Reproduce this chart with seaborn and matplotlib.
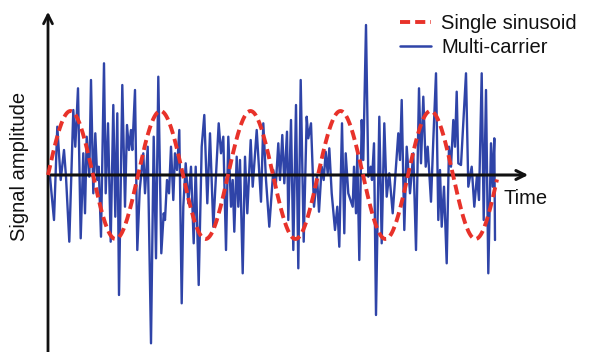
import numpy as np
import pandas as pd
import matplotlib
matplotlib.use("Agg")
import matplotlib.pyplot as plt
import seaborn as sns
from matplotlib.lines import Line2D

# ---- data (time and amplitude in arbitrary units) ----
multi_t = [2, 6, 9.3, 12.7, 16, 18, 21.3, 25.3, 27.3, 30, 32.7, 35.3, 37, 38.7, 41.3, 43, 45.3, 47.3, 49.3,
           50.7, 53, 56, 57.7, 60, 62.7, 65.3, 67.3, 69.3, 71, 74.3, 77, 79, 81, 83, 84.3, 87, 89.3, 91.7,
           95.3, 97, 99.7, 103, 105.7, 108, 110.3, 113.3, 115.7, 117, 119, 121, 123, 125.3, 127, 129, 131.3,
           133.7, 135.3, 137.7, 140.3, 143, 145.7, 147.7, 150.7, 153.7, 156.3, 159.3, 162, 165.3, 170.7, 173,
           175.3, 178, 180.3, 183, 184.7, 186.3, 188.7, 190.3, 192, 194.7, 197, 199.3, 202.7, 204.7, 208.7,
           213, 215.3, 218, 221.3, 225.3, 227.7, 230.3, 232, 234.3, 236.3, 239, 240.3, 243, 245.3, 248,
           250.3, 252.7, 255.7, 258.7, 260.3, 263, 266, 269, 271, 273.7, 275.7, 277.7, 279.7, 281.3, 283.7,
           287, 289.3, 291.3, 294, 296.3, 297.7, 300.3, 304.7, 306, 308, 309.3, 311.3, 313.7, 315.3, 318,
           320.3, 322.7, 324, 326, 328, 331.3, 333.7, 336.3, 338.7, 341.3, 344.7, 350.3, 352, 353.7, 356.3,
           358.7, 362, 365.3, 368, 371, 373, 375.3, 377.7, 379.7, 383, 385.3, 388, 390.3, 392, 393.7, 396,
           398.7, 401, 403, 405.3, 407, 408.7, 410.3, 413, 418, 420.3, 423.7, 426.3, 429, 431, 433.7, 435.7,
           438, 440.3, 443, 444.7, 446.3, 447]
multi_a = [-1.7, -45, 48.3, -5, 25, -1.7, -66.7, 65, 28.3, 86.7, -63.3, 21.7, -38.3, 38.3, -1.7, 95, -18.3,
           41.7, -5, 8.3, -61.7, 111.7, -18.3, 51.7, -66.7, 70, -41.7, 61.7, -120, 90, -31.7, 50, 25, 45,
           25, 85, -75, -15, 21.7, -18.3, 28.3, -168.3, 38.3, -83.3, 98.3, -78.3, -38.3, -45, -5, -18.3,
           28.3, -25, 21.7, 5, 45, -128.3, -31.7, 11.7, -28.3, 8.3, -68.3, 8.3, -110, 28.3, 60, -28.3,
           41.7, -51.7, 51.7, 21.7, 38.3, -75, 38.3, -31.7, -5, -56.7, 18.3, -31.7, 15, -98.3, 18.3,
           -38.3, 35, -11.7, 45, -26.7, 51.7, -5, -51.7, 5, -11.7, 31.7, -5, 40, -8.3, 43.3, -45, 55,
           -75, 70, -93.3, 95, -66.7, 58.3, 36.7, 51.7, -31.7, -1.7, -36.7, 8.3, -5, 23.3, 1.7, 26.7,
           -18.3, -55, -31.7, -71.7, 51.7, -58.3, 21.7, -18.3, -31.7, 8.3, -38.3, 21.7, -85, 55, 15, 150,
           -1.7, 8.3, -5, 31.7, -140, 58.3, -68.3, 51.7, -21.7, 1.7, -38.3, 41.7, 15, 75, -55, 28.3,
           -18.3, 21.7, -75, 86.7, 11.7, 78.3, 8.3, 28.3, -26.7, 35, 101.7, -45, 5, -51.7, -11.7, -88.3,
           28.3, 8.3, 55, 28.3, 83.3, 11.7, 10, 101.7, -11.7, 8.3, -31.7, 0, -25, 101.7, -45, 85, -98.3,
           31.7, -11.7, 36.7, -65]

sin_amplitude = 64      # read peak height
sin_period = 90         # read distance between peaks
sin_end = 449           # read end of the dashed curve

series_labels = ["Single sinusoid", "Multi-carrier"]
x_label = "Time"
y_label = "Signal amplitude"

# ---- frames ----
sin_t = np.linspace(0, sin_end, 800)
df_sin = pd.DataFrame({"t": sin_t, "a": sin_amplitude * np.sin(2 * np.pi * sin_t / sin_period)})
df_multi = pd.DataFrame({"t": multi_t, "a": multi_a})

sns.set_theme(style="white")
plt.rcParams["font.family"] = ["Liberation Sans", "DejaVu Sans"]

W, H = 591, 352
fig = plt.figure(figsize=(W / 100, H / 100), dpi=100)
ax = fig.add_axes([0, 0, 1, 1])
ox, oy = 48, 175  # pixel position of the origin
ax.set_xlim(-ox, W - ox)
ax.set_ylim(oy - H, oy)
ax.axis("off")

blue = "#2f44a8"
red = "#e8322a"

sns.lineplot(data=df_multi, x="t", y="a", ax=ax, color=blue, lw=1.7, estimator=None, sort=False, zorder=2)

# axes with arrows
ax.annotate("", xy=(531 - ox, 0), xytext=(0, 0),
            arrowprops=dict(arrowstyle="->", color="#111111", lw=2.2, mutation_scale=16), zorder=3)
ax.annotate("", xy=(0, oy - 9), xytext=(0, oy - H - 5),
            arrowprops=dict(arrowstyle="->", color="#111111", lw=2.0, mutation_scale=16), zorder=3)

sns.lineplot(data=df_sin, x="t", y="a", ax=ax, color=red, lw=2.8, estimator=None, sort=False, zorder=4,
             dashes=False)
ax.lines[-1].set_dashes((2.6, 1.3))

ax.text(503 - ox, oy - 198, x_label, fontsize=14.5, ha="left", va="center", color="#111111")
ax.text(20 - ox, oy - 166, y_label, fontsize=14.5, ha="center", va="center", rotation=90, color="#111111")

handles = [Line2D([], [], color=red, lw=2.8, dashes=(2.6, 1.3)),
           Line2D([], [], color=blue, lw=1.8)]
leg = ax.legend(handles, series_labels, loc="upper left", bbox_to_anchor=(400 / W, 1 - 14 / H),
                bbox_transform=fig.transFigure, frameon=False, fontsize=14.5,
                handlelength=1.55, handletextpad=0.5, labelspacing=0.25, borderpad=0, borderaxespad=0)
for t in leg.get_texts():
    t.set_color("#111111")

fig.savefig("out.png", dpi=100)
